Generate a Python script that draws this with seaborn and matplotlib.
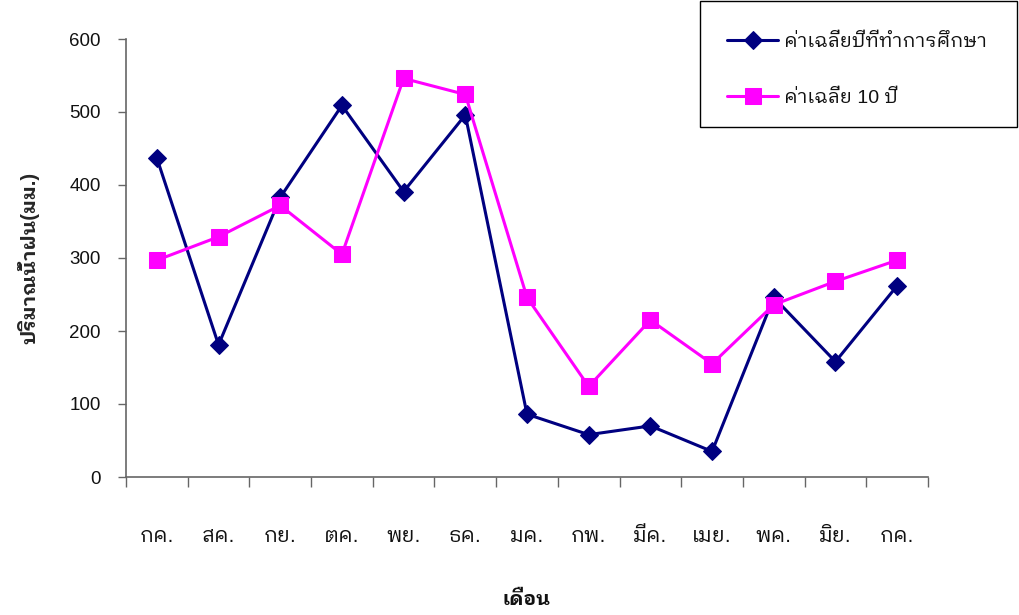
import matplotlib
matplotlib.use("Agg")
import matplotlib.pyplot as plt
from matplotlib import font_manager
from matplotlib.ft2font import FT2Font
from matplotlib.patches import Rectangle
import seaborn as sns
import pandas as pd
import numpy as np

months = ["กค.", "สค.", "กย.", "ตค.", "พย.", "ธค.", "มค.", "กพ.", "มีค.", "เมย.", "พค.", "มิย.", "กค."]
study_avg = [437, 181, 383, 509, 391, 496, 86, 58, 70, 35, 246, 158, 262]
ten_year_avg = [297, 329, 372, 305, 546, 524, 246, 124, 215, 155, 236, 268, 297]
series_names = ["ค่าเฉลี่ยปีที่ทำการศึกษา", "ค่าเฉลี่ย 10 ปี"]
y_ticks = [0, 100, 200, 300, 400, 500, 600]

# find a font with Thai glyphs
cands = []
for f in font_manager.fontManager.ttflist:
    try:
        ft = FT2Font(f.fname)
        cm = ft.get_charmap()
        if ord("ค") in cm and ord("ป") in cm:
            cands.append(f.name)
    except Exception:
        pass
pref = [c for c in cands if "Looped" in c] + [c for c in cands if "Thai" in c] + cands
thai_family = pref[0] if pref else "DejaVu Sans"

sns.set_theme(style="white")
plt.rcParams["font.family"] = ["Liberation Sans", thai_family, "DejaVu Sans"]
plt.rcParams["text.color"] = "#111111"

fig = plt.figure(figsize=(10.2, 6.15), dpi=100)
ax = fig.add_axes([126/1020, 1-477/615, (928-126)/1020, (477-39)/615])

df = pd.DataFrame({"x": np.arange(len(months)), "a": study_avg, "b": ten_year_avg})
sns.lineplot(data=df, x="x", y="a", ax=ax, color="#000080", marker="D", markersize=9,
             markeredgecolor="#000080", linewidth=2.2, label=series_names[0], legend=False)
sns.lineplot(data=df, x="x", y="b", ax=ax, color="#FF00FF", marker="s", markersize=11,
             markeredgecolor="#FF00FF", linewidth=2.2, label=series_names[1], legend=False)

ax.set_xlim(-0.5, len(months) - 0.5)
ax.set_ylim(0, 600)
ax.set_yticks(y_ticks)
ax.set_yticklabels([str(v) for v in y_ticks], fontsize=13.5, color="#111111")
ax.set_xticks(np.arange(len(months)))
ax.set_xticklabels(months, fontsize=15, color="#111111")
ax.set_xticks(np.arange(len(months) + 1) - 0.5, minor=True)
ax.tick_params(axis="x", which="major", length=0, pad=36)
ax.tick_params(axis="x", which="minor", length=7, width=1, color="#666666", direction="out", bottom=True)
ax.tick_params(axis="y", which="major", length=6, width=1, color="#666666", direction="out", left=True, pad=12)

for s in ["top", "right"]:
    ax.spines[s].set_visible(False)
for s in ["left", "bottom"]:
    ax.spines[s].set_color("#666666")
    ax.spines[s].set_linewidth(1.2)

ax.set_xlabel("")
fig.text(527/1020, 1-600/615, "เดือน", fontsize=14, fontweight="bold", ha="center", va="center")
ax.set_ylabel("ปริมาณน้ำฝน(มม.)", fontsize=14.5, fontweight="bold", labelpad=22)

fig.patches.append(Rectangle((700/1020, 1-127/615), 317/1020, 126/615, transform=fig.transFigure,
                             fill=False, edgecolor="black", linewidth=1.0))
handles, labels = ax.get_legend_handles_labels()
leg = fig.legend(handles, labels, loc="center left",
                 bbox_to_anchor=(710/1020, 1-70/615),
                 frameon=False, fontsize=14,
                 labelspacing=2.0, handlelength=2.6, handletextpad=0.3)

fig.savefig("out.png", dpi=100, facecolor="white")
